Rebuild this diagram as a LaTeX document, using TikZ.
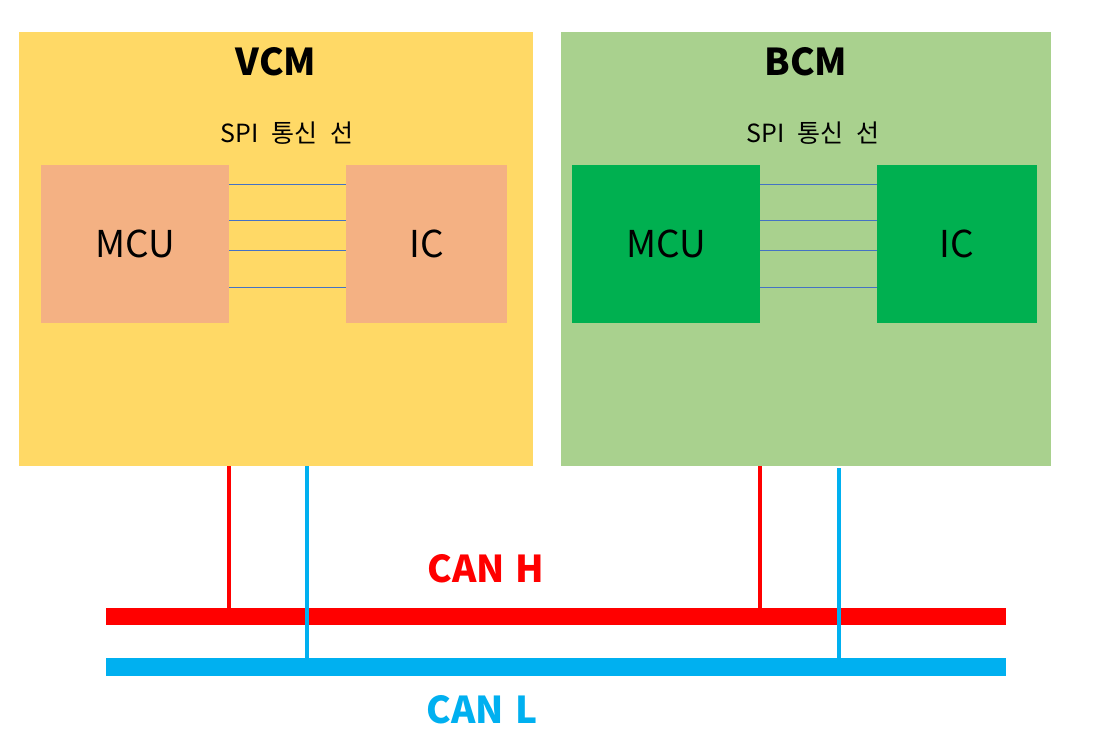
\documentclass[tikz,border=0pt]{standalone}
\usepackage{fontspec}
\setmainfont{Noto Sans CJK KR}
\begin{document}
\begin{tikzpicture}[x=1pt,y=-1pt,
  module/.style={draw=none,anchor=north west,inner sep=0pt},
  chip/.style={draw=none,anchor=north west,inner sep=0pt},
  spi/.style={draw={rgb,255:red,68;green,114;blue,196},line width=1pt},
  title/.style={font=\fontsize{37}{40}\selectfont\bfseries},
  lbl/.style={font=\fontsize{37}{40}\selectfont},
  spitext/.style={font=\fontsize{25}{28}\selectfont},
  canh/.style={draw={rgb,255:red,255;green,0;blue,0}},
  canl/.style={draw={rgb,255:red,0;green,176;blue,240}}
]
\definecolor{vcmfill}{RGB}{255,217,102}
\definecolor{bcmfill}{RGB}{169,209,142}
\definecolor{chipa}{RGB}{244,177,131}
\definecolor{chipb}{RGB}{0,176,80}
\definecolor{canred}{RGB}{255,0,0}
\definecolor{canblue}{RGB}{0,176,240}
\useasboundingbox[fill=white] (0,0) rectangle (1093,755);

% modules
\node[module,fill=vcmfill,minimum width=514pt,minimum height=434pt] (vcm) at (19,32) {};
\node[module,fill=bcmfill,minimum width=490pt,minimum height=434pt] (bcm) at (561,32) {};

\node[title] (vcmt) at (276,62) {VCM};
\node[title] (bcmt) at (806,62) {BCM};
\node[spitext] (spia) at (287,133) {SPI\hspace{0.5em}통신\hspace{0.5em}선};
\node[spitext] (spib) at (813,133) {SPI\hspace{0.5em}통신\hspace{0.5em}선};

% chips
\node[chip,fill=chipa,minimum width=188pt,minimum height=158pt] (mcua) at (41,165) {};
\node[chip,fill=chipa,minimum width=161pt,minimum height=158pt] (ica) at (346,165) {};
\node[chip,fill=chipb,minimum width=188pt,minimum height=158pt] (mcub) at (572,165) {};
\node[chip,fill=chipb,minimum width=160pt,minimum height=158pt] (icb) at (877,165) {};
\node[lbl] at (mcua.center) {MCU};
\node[lbl] at (ica.center) {IC};
\node[lbl] at (mcub.center) {MCU};
\node[lbl] at (icb.center) {IC};

% SPI lines
\foreach \yy in {184,220,250,287}{
  \draw[spi] (mcua.east |- 0,\yy) -- (ica.west |- 0,\yy);
  \draw[spi] (mcub.east |- 0,\yy) -- (icb.west |- 0,\yy);
}

% CAN buses
\coordinate (hl) at (106,616);
\coordinate (hr) at (1006,616);
\coordinate (ll) at (106,667);
\coordinate (lr) at (1006,667);
\draw[canh,line width=17pt] (hl) -- (hr);
\draw[canl,line width=18pt] (ll) -- (lr);

% drops
\coordinate (va) at (229,466); \coordinate (vb) at (307,466);
\coordinate (ba) at (760,466); \coordinate (bb) at (839,468);
\draw[canh,line width=4pt] (va) -- (va |- 0,608);
\draw[canh,line width=4pt] (ba) -- (ba |- 0,608);
\draw[canl,line width=4pt] (vb) -- (vb |- 0,658);
\draw[canl,line width=4pt] (bb) -- (bb |- 0,658);

\node[title,text=canred] (canht) at (486,569) {CAN\hspace{0.3em}H};
\node[title,text=canblue] (canlt) at (482,710) {CAN\hspace{0.3em}L};
\end{tikzpicture}
\end{document}
